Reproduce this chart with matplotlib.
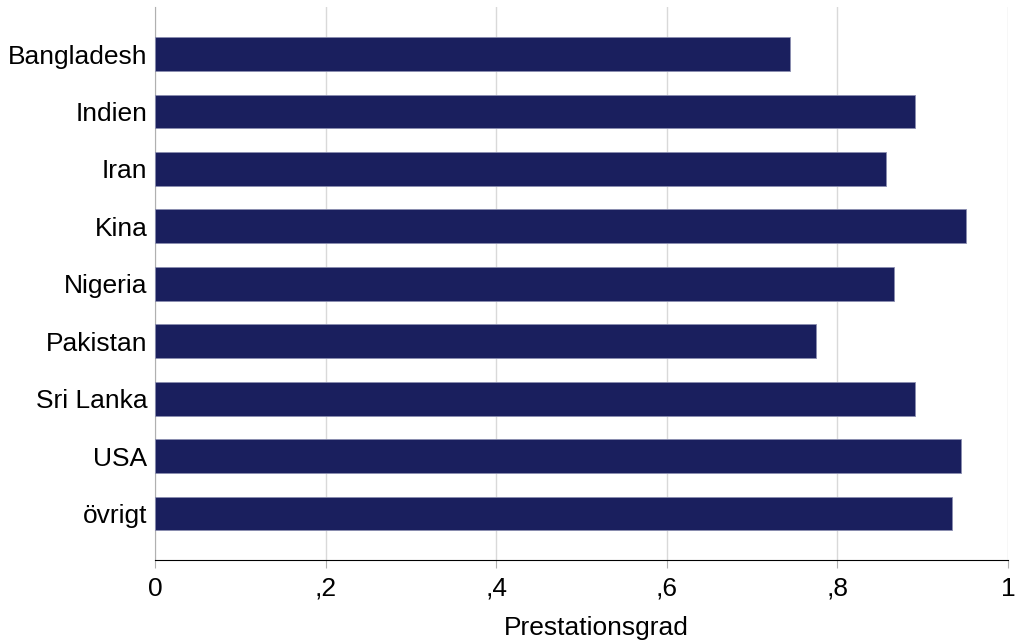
import matplotlib
matplotlib.use("Agg")
import matplotlib.pyplot as plt
import matplotlib.transforms as mtransforms

plt.rcParams['font.family'] = ['Liberation Sans', 'DejaVu Sans']

countries = ["Bangladesh", "Indien", "Iran", "Kina", "Nigeria", "Pakistan", "Sri Lanka", "USA", "övrigt"]
values = [0.744, 0.891, 0.857, 0.951, 0.866, 0.775, 0.891, 0.945, 0.934]
xticks = [0, 0.2, 0.4, 0.6, 0.8, 1.0]
xticklabels = ["0", ",2", ",4", ",6", ",8", "1"]

fig = plt.figure(figsize=(10.24, 6.44), dpi=100)
ax = fig.add_axes([155/1024, 1 - 560/644, (1008 - 155)/1024, (560 - 7)/644])

ypos = list(range(len(countries)))
ax.barh(ypos, values, height=0.59, color="#1a1f5e", edgecolor="#8a8db0", linewidth=0.6, zorder=3)
ax.set_ylim(len(countries) - 1 + 0.81, -0.82)
ax.set_xlim(0, 1.0)
ax.set_yticks(ypos)
ax.set_yticklabels(countries, fontsize=19)
ax.set_xticks(xticks)
ax.set_xticklabels(xticklabels, fontsize=19)
ax.set_xlabel("Prestationsgrad", fontsize=19)
ax.xaxis.set_label_coords(0.517, 0.0, transform=ax.transAxes)
ax.xaxis.label.set_verticalalignment("top")
ax.xaxis.label.set_transform(mtransforms.blended_transform_factory(ax.transAxes, fig.transFigure))
ax.xaxis.label.set_position((0.517, 1 - 616/644))
ax.grid(axis="x", color="#d9d9d9", linewidth=1.0, zorder=0)
for s in ["top", "right"]:
    ax.spines[s].set_visible(False)
ax.spines["left"].set_color("#b0b0b0")
ax.spines["bottom"].set_color("black")
ax.tick_params(axis="y", length=0, pad=5.5)
ax.tick_params(axis="x", length=6, color="#b0b0b0", pad=6)
fig.savefig("out.png", dpi=100, facecolor="white")
